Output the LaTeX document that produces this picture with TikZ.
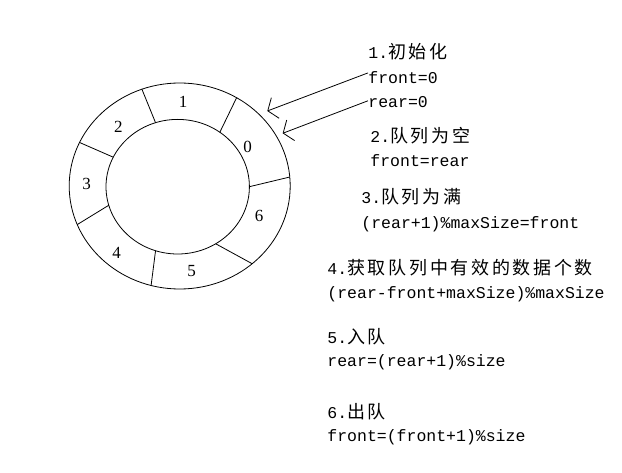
\documentclass[tikz,border=0pt]{standalone}
\usepackage{fontspec}
\setmonofont{Liberation Mono}
\newfontfamily\cjk{Noto Sans CJK SC}[LetterSpace=15]
\newfontfamily\ringfont{Liberation Serif}
\usepackage{tikz}
\usetikzlibrary{arrows.meta, calc}
\newcommand{\zh}[1]{{\cjk\fontsize{18}{20}\selectfont #1}}

\begin{document}
\begin{tikzpicture}[
    x=1pt, y=1pt,
    line width=0.8pt,
    % Style definitions
    note/.style={anchor=base west, inner sep=0pt, font=\ttfamily\fontsize{16.5}{20}\selectfont},
    slotnum/.style={inner sep=0pt, font=\ringfont\fontsize{17}{20}\selectfont},
    pointer/.style={-{Straight Barb[length=8pt, width=22pt]}, line width=0.8pt}
]
    \path[fill=white, use as bounding box] (0,0) rectangle (622,472);

    % === RING: circular queue with 7 slots ===
    \coordinate (outer) at (179.7,286);
    \coordinate (inner) at (177.7,285.3);
    \draw (outer) ellipse [x radius=110.5, y radius=103];
    \draw (inner) ellipse [x radius=71.7, y radius=67.3];

    \foreach \oa/\ia in {110/108, 59/54, 5/0, -49/-58, -105/-108, 202/196, 155/154}
        \draw ($(outer)+(\oa:110.5 and 103)$) -- ($(inner)+(\ia:71.7 and 67.3)$);

    \foreach \n/\x/\y in {0/247.7/325.3, 1/183/370.3, 2/118.3/344.7, 3/86.7/287.7,
                          4/116.7/219.3, 5/191.7/201, 6/259/256.3}
        \node (slot\n) [slotnum] at (\x,\y) {\n};

    % === NOTES ===
    \node (init_title) [note] at (368,413.7) {1.\zh{初始化}};
    \node (init_front) [note] at (368,388.7) {front=0};
    \node (init_rear)  [note] at (368,364.3) {rear=0};

    \node (empty_title) [note] at (370,329.3) {2.\zh{队列为空}};
    \node (empty_cond)  [note] at (370,305.3) {front=rear};

    \node (full_title) [note] at (361,268) {3.\zh{队列为满}};
    \node (full_cond)  [note] at (361,243.7) {(rear+1)\%maxSize=front};

    \node (count_title) [note] at (327,197) {4.\zh{获取队列中有效的数据个数}};
    \node (count_expr)  [note] at (327,173.7) {(rear-front+maxSize)\%maxSize};

    \node (enq_title) [note] at (327,128.7) {5.\zh{入队}};
    \node (enq_expr)  [note] at (327,106) {rear=(rear+1)\%size};

    \node (deq_title) [note] at (327,53) {6.\zh{出队}};
    \node (deq_expr)  [note] at (327,30.3) {front=(front+1)\%size};

    % === POINTERS into the ring ===
    \coordinate (front_tip) at (267.3,361);
    \coordinate (rear_tip) at (282.7,338.7);
    \draw [pointer] ([yshift=4.5pt]init_front.west) -- (front_tip);
    \draw [pointer] ([yshift=1.5pt]init_rear.west) -- (rear_tip);

\end{tikzpicture}
\end{document}
